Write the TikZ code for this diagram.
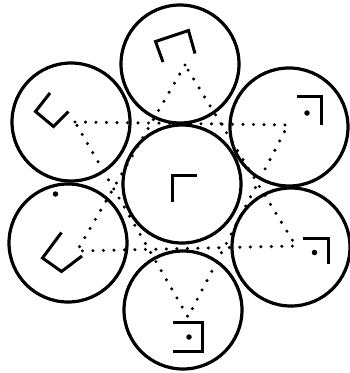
\documentclass[tikz,border=0pt]{standalone}
\usetikzlibrary{calc}
\tikzset{
  cell/.style={circle, draw, line width=3.2pt, minimum size=118pt, inner sep=0pt},
  glyph/.style={line width=3pt, line join=miter},
  dotline/.style={line width=3.4pt, line cap=round, dash pattern=on 0pt off 10.5pt},
  pip/.style={circle, fill, inner sep=0pt, minimum size=5.5pt},
}
\begin{document}
\begin{tikzpicture}[x=1pt, y=-1pt]
  \useasboundingbox (0,0) rectangle (350,373);

  % the seven circles
  \node[cell] (mid) at (182,184) {};
  \node[cell] (top) at (180,64) {};
  \node[cell] (ul)  at (71,122) {};
  \node[cell] (ur)  at (289,127) {};
  \node[cell] (ll)  at (68,243) {};
  \node[cell] (lr)  at (291,247) {};
  \node[cell] (bot) at (183,310) {};

  % corners of the two dotted triangles
  \coordinate (tA) at (185,65);
  \coordinate (tB) at (77,251);
  \coordinate (tC) at (296,246);
  \coordinate (sA) at (75,122);
  \coordinate (sB) at (288,125);
  \coordinate (sC) at (188,317);

  \draw[dotline] (tA) -- (tB) -- (tC) -- cycle;
  \draw[dotline] (sA) -- (sB) -- (sC) -- cycle;

  % marks inside the circles
  \draw[glyph] (172,202) -- (172,175) -- (197,175);
  \draw[glyph] (163,62) -- (155.5,41.5) -- (188.5,30.5) -- (195,53.5);
  \draw[glyph] (50,93) -- (35.5,111.5) -- (53.5,126.5) -- (68.5,111.5);
  \draw[glyph] (297,96.5) -- (321.5,96.5) -- (321.5,125);
  \draw[glyph] (61.5,232.5) -- (42.5,258) -- (61.5,271.5) -- (82,256);
  \draw[glyph] (303,238.5) -- (328,238.5) -- (328,263.5);
  \draw[glyph] (173,322) -- (202,322) -- (202,351.5) -- (173,351.5);

  \node[pip] (urdot)  at (307,113) {};
  \node[pip] (lldot)  at (55.5,194) {};
  \node[pip] (lrdot)  at (314.5,252.5) {};
  \node[pip] (botdot) at (189,337) {};
\end{tikzpicture}
\end{document}
